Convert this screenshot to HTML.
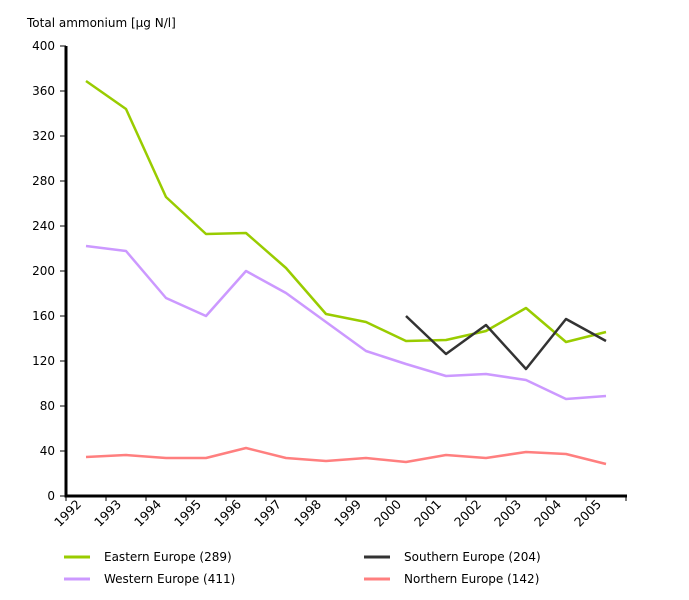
<!DOCTYPE html>
<html><head><style>body{margin:0;background:#fff}svg{display:block;font-family:Verdana,"DejaVu Sans",sans-serif}</style></head>
<body>
<svg width="689" height="600" xmlns="http://www.w3.org/2000/svg">
<text x="27" y="27" font-size="12">Total ammonium [µg N/l]</text>
<g font-size="12" text-anchor="end">
<text x="55" y="500">0</text><text x="55" y="455">40</text><text x="55" y="410">80</text>
<text x="55" y="365">120</text><text x="55" y="320">160</text><text x="55" y="275">200</text>
<text x="55" y="230">240</text><text x="55" y="185">280</text><text x="55" y="140">320</text>
<text x="55" y="95">360</text><text x="55" y="50">400</text>
</g>
<g stroke="#000" stroke-width="1">
<path d="M60 496H66M60 451H66M60 406H66M60 361H66M60 316H66M60 271H66M60 226H66M60 181H66M60 136H66M60 91H66M60 46H66"/>
<path d="M66 496v5M106 496v5M146 496v5M186 496v5M226 496v5M266 496v5M306 496v5M346 496v5M386 496v5M426 496v5M466 496v5M506 496v5M546 496v5M586 496v5M626 496v5"/>
</g>
<path d="M66 46V496H627" fill="none" stroke="#000" stroke-width="3"/>
<g font-size="12.5" text-anchor="end">
<text transform="translate(82,505) rotate(-45)">1992</text>
<text transform="translate(122,505) rotate(-45)">1993</text>
<text transform="translate(162,505) rotate(-45)">1994</text>
<text transform="translate(202,505) rotate(-45)">1995</text>
<text transform="translate(242,505) rotate(-45)">1996</text>
<text transform="translate(282,505) rotate(-45)">1997</text>
<text transform="translate(322,505) rotate(-45)">1998</text>
<text transform="translate(362,505) rotate(-45)">1999</text>
<text transform="translate(402,505) rotate(-45)">2000</text>
<text transform="translate(442,505) rotate(-45)">2001</text>
<text transform="translate(482,505) rotate(-45)">2002</text>
<text transform="translate(522,505) rotate(-45)">2003</text>
<text transform="translate(562,505) rotate(-45)">2004</text>
<text transform="translate(602,505) rotate(-45)">2005</text>
</g>
<g fill="none" stroke-width="2.5" stroke-linejoin="round">
<polyline stroke="#99cc00" points="86,81 126,109 166,197 206,234 246,233 286,268 326,314 366,322 406,341 446,340 486,331 526,308 566,342 606,332"/>
<polyline stroke="#cc99ff" points="86,246 126,251 166,298 206,316 246,271 286,293 326,322 366,351 406,364 446,376 486,374 526,380 566,399 606,396"/>
<polyline stroke="#ff7f7f" points="86,457 126,455 166,458 206,458 246,448 286,458 326,461 366,458 406,462 446,455 486,458 526,452 566,454 606,464"/>
<polyline stroke="#333333" points="406,316 446,354 486,325 526,369 566,319 606,341"/>
</g>
<g stroke-width="3">
<line x1="64" y1="557" x2="90" y2="557" stroke="#99cc00"/>
<line x1="64" y1="579" x2="90" y2="579" stroke="#cc99ff"/>
<line x1="364" y1="557" x2="390" y2="557" stroke="#333333"/>
<line x1="364" y1="579" x2="390" y2="579" stroke="#ff7f7f"/>
</g>
<g font-size="12">
<text x="104" y="561">Eastern Europe (289)</text>
<text x="104" y="583">Western Europe (411)</text>
<text x="404" y="561">Southern Europe (204)</text>
<text x="404" y="583">Northern Europe (142)</text>
</g>
</svg>
</body></html>
